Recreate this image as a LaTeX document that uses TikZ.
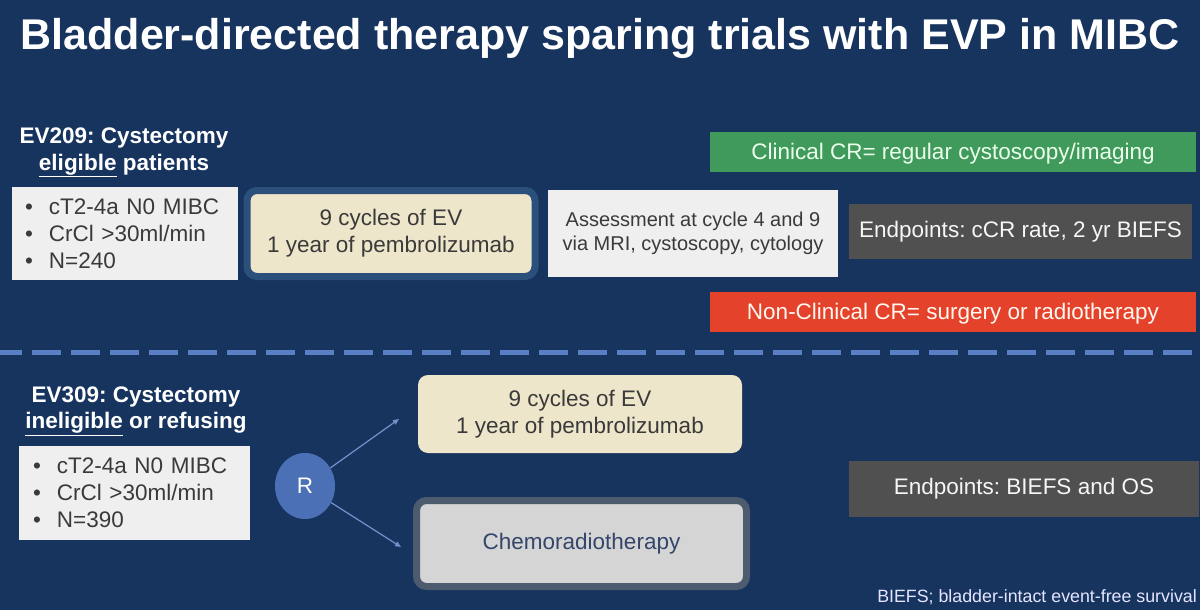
\documentclass[tikz,border=0pt]{standalone}
\usepackage{fontspec}
\setmainfont{Liberation Sans}
\usetikzlibrary{arrows.meta,positioning,shapes.geometric}
\definecolor{slidebg}{RGB}{23,52,95}
\definecolor{boxgray}{RGB}{239,239,239}
\definecolor{boxtext}{RGB}{58,58,58}
\definecolor{evyellow}{RGB}{238,230,202}
\definecolor{evring}{RGB}{44,80,124}
\definecolor{crgreen}{RGB}{63,154,92}
\definecolor{crred}{RGB}{228,66,42}
\definecolor{endgray}{RGB}{80,80,80}
\definecolor{chemofill}{RGB}{213,213,213}
\definecolor{chemoring}{RGB}{77,91,110}
\definecolor{chemotext}{RGB}{52,70,106}
\definecolor{divider}{RGB}{90,127,196}
\definecolor{randblue}{RGB}{75,112,182}
\newcommand{\bul}{\makebox[24pt][l]{\textbullet}}
\frenchspacing

\begin{document}
\begin{tikzpicture}[x=1pt,y=-1pt,inner sep=0pt,
  body/.style={font=\fontsize{22.5}{27}\selectfont},
  head/.style={font=\fontsize{22.5}{26.5}\selectfont\bfseries,text=white,align=center},
  listbox/.style={body,fill=boxgray,text=boxtext,align=left,minimum height=#1},
  armbox/.style={body,fill=evyellow,text=boxtext,align=center,rounded corners=10pt},
  banner/.style={body,minimum width=486pt,minimum height=40pt,text depth=2pt},
  endbox/.style={body,fill=endgray,text=white!93!gray},
  arm/.style={draw=divider!85!white,line width=1.2pt,-{Triangle[length=6pt,width=5pt]}}]
\useasboundingbox[fill=slidebg] (0,0) rectangle (1200,610);
\node[font=\fontsize{43}{50}\selectfont\bfseries,text=white] (title) at (600,38) {Bladder-directed therapy sparing trials with EVP in MIBC};
% EV209: cystectomy eligible
\node[head] (ev209) at (124,152.5) {EV209: Cystectomy\\\underline{eligible} patients};
\node[listbox=93pt,text width=200pt,inner xsep=13pt] (list209) at (125,233.5) {\bul cT2-4a N0 MIBC\\\bul CrCl >30ml/min\\\bul N=240};
\node[armbox,draw=evring,line width=7pt,minimum width=288pt,minimum height=86pt] (evp209) at (391,233.5) {9 cycles of EV\\1 year of pembrolizumab};
\node[body,fill=boxgray,text=boxtext,align=center,minimum width=290pt,minimum height=87pt,font=\fontsize{20}{24}\selectfont] (assess) at (693,233.5) {Assessment at cycle 4 and 9\\via MRI, cystoscopy, cytology};
\node[banner,fill=crgreen,text=green!8!white] (ccr) at (953,152) {Clinical CR= regular cystoscopy/imaging};
\node[endbox,minimum width=343pt,minimum height=55pt] (end209) at (1020.5,231.5) {Endpoints: cCR rate, 2 yr BIEFS};
\node[banner,fill=crred,text=orange!6!white] (nccr) at (953,312) {Non-Clinical CR= surgery or radiotherapy};
\draw[divider,line width=5pt,dash pattern=on 29pt off 10pt,dash phase=7pt] (0,352) -- (1200,352);
% EV309: cystectomy ineligible
\node[head] (ev309) at (136,411) {EV309: Cystectomy\\\underline{ineligible} or refusing};
\node[listbox=94pt,text width=203pt,inner xsep=14pt] (list309) at (134.5,493) {\bul cT2-4a N0 MIBC\\\bul CrCl >30ml/min\\\bul N=390};
\node[ellipse,fill=randblue,text=white,body,minimum width=60pt,minimum height=66pt] (rand) at (305,486) {R};
\node[armbox,minimum width=324pt,minimum height=78pt] (evp309) at (580,414) {9 cycles of EV\\1 year of pembrolizumab};
\node[body,fill=chemofill,text=chemotext,draw=chemoring,line width=7pt,rounded corners=10pt,minimum width=330pt,minimum height=86pt] (chemo) at (581.5,543.5) {Chemoradiotherapy};
\coordinate (armtop) at (399,419);
\coordinate (armbot) at (401,547);
\draw[arm] (rand) -- (armtop);
\draw[arm] (rand) -- (armbot);
\node[endbox,minimum width=350pt,minimum height=56pt] (end309) at (1024,489) {Endpoints: BIEFS and OS};
\node[anchor=east,font=\fontsize{17.8}{20}\selectfont,text=white!90!blue] (note) at (1197,597) {BIEFS; bladder-intact event-free survival};
\end{tikzpicture}
\end{document}
